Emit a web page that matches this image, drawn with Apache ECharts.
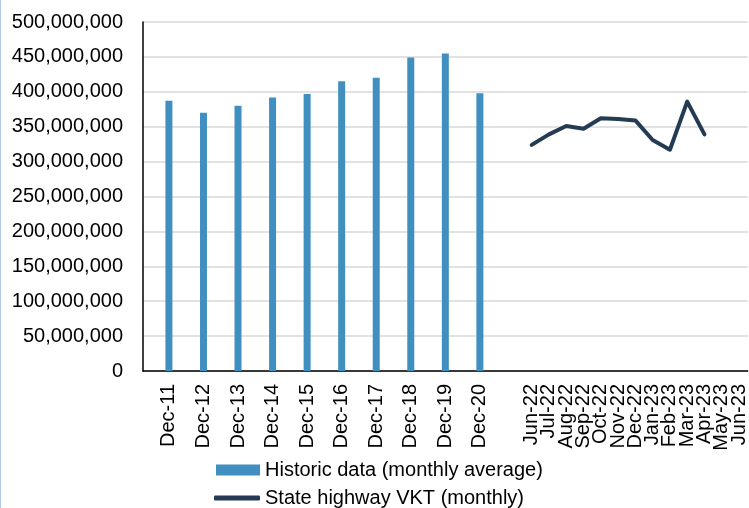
<!DOCTYPE html>
<html>
<head>
<meta charset="utf-8">
<script src="https://cdn.jsdelivr.net/npm/echarts@6/dist/echarts.min.js"></script>
<style>
html,body{margin:0;padding:0;background:#fff;}
#c{width:749px;height:508px;}
#edge{position:absolute;left:0;top:0;width:1px;height:508px;background:#AFC9E6;}
</style>
</head>
<body>
<div id="c"></div>
<div id="edge"></div>
<script>
const categories = ['', 'Dec-11', '', 'Dec-12', '', 'Dec-13', '', 'Dec-14', '', 'Dec-15', '', 'Dec-16', '', 'Dec-17', '', 'Dec-18', '', 'Dec-19', '', 'Dec-20', '', '',
  'Jun-22', 'Jul-22', 'Aug-22', 'Sep-22', 'Oct-22', 'Nov-22', 'Dec-22', 'Jan-23', 'Feb-23', 'Mar-23', 'Apr-23', 'May-23', 'Jun-23'];
const historic = [null, 387e6, null, 370e6, null, 380e6, null, 392e6, null, 397e6, null, 415e6, null, 420e6, null, 449e6, null, 455e6, null, 398e6, null, null,
  null, null, null, null, null, null, null, null, null, null, null, null, null];
const vkt = [null, null, null, null, null, null, null, null, null, null, null, null, null, null, null, null, null, null, null, null, null, null,
  324e6, 339e6, 351e6, 347e6, 362e6, 361e6, 359e6, 331e6, 317e6, 386e6, 339e6, null, null];
const yTicks = { min: 0, max: 500e6, interval: 50e6 };

const chart = echarts.init(document.getElementById('c'));
const font = 'Liberation Sans, Arial, sans-serif';
const NAVY = '#243B53';
chart.setOption({
  animation: false,
  grid: { left: 143, right: 0, top: 22, bottom: 137, containLabel: false },
  legend: [
    { left: 216, top: 460, padding: 0, itemWidth: 44, itemHeight: 11, icon: 'rect',
      textStyle: { fontSize: 20, fontFamily: font, color: '#000' },
      data: ['Historic data (monthly average)'] },
    { left: 214, top: 488, padding: 0, itemWidth: 46, itemHeight: 5, icon: 'roundRect',
      textStyle: { fontSize: 20, fontFamily: font, color: '#000' },
      itemStyle: { color: NAVY },
      data: [{ name: 'State highway VKT (monthly)', icon: 'roundRect' }] }
  ],
  xAxis: {
    type: 'category', data: categories, boundaryGap: true,
    axisLine: { lineStyle: { color: '#000', width: 1.5 } },
    axisTick: { show: false },
    axisLabel: { interval: 0, rotate: 90, margin: 13, fontSize: 20, fontFamily: font, color: '#000' }
  },
  yAxis: {
    type: 'value', min: yTicks.min, max: yTicks.max, interval: yTicks.interval,
    axisLine: { show: true, lineStyle: { color: '#000', width: 1.5 } },
    axisTick: { show: false },
    splitLine: { lineStyle: { color: '#D9D9D9', width: 1.5 } },
    axisLabel: { margin: 20, fontSize: 20, fontFamily: font, color: '#000',
      formatter: v => v.toLocaleString('en-US') }
  },
  series: [
    { name: 'Historic data (monthly average)', type: 'bar', data: historic, barWidth: 7,
      itemStyle: { color: '#418FC1' } },
    { name: 'State highway VKT (monthly)', type: 'line', data: vkt, symbol: 'none', showSymbol: false,
      lineStyle: { color: NAVY, width: 4, cap: 'round', join: 'round' },
      itemStyle: { color: NAVY } }
  ]
});
</script>
</body>
</html>
